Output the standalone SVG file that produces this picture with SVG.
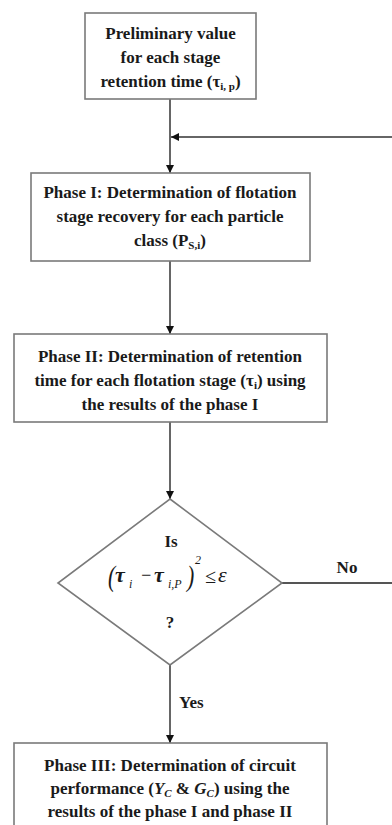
<svg xmlns="http://www.w3.org/2000/svg" width="392" height="825" viewBox="0 0 392 825">
<defs>
<marker id="ah" viewBox="0 0 10 10" refX="10" refY="5" markerWidth="8" markerHeight="8" markerUnits="userSpaceOnUse" orient="auto">
<path d="M0,0 L10,5 L0,10 z" fill="#111"/>
</marker>
<style>
.box{fill:#fff;stroke:#7a7a7a;stroke-width:1.6}
.t{font-family:"Liberation Serif","Times New Roman",serif;font-weight:bold;font-size:17px;fill:#1a1a1a;text-anchor:middle}
.m{font-family:"Liberation Serif","Times New Roman",serif;font-style:italic;fill:#1a1a1a}
.c{fill:none;stroke:#333;stroke-width:1.5}
.cn{fill:none;stroke:#555;stroke-width:1.8}
</style>
</defs>
<rect width="392" height="825" fill="#fff"/>
<g id="connectors">
<line class="c" x1="170" y1="99" x2="170" y2="173" marker-end="url(#ah)"/>
<line class="c" x1="392" y1="137" x2="171" y2="137" marker-end="url(#ah)"/>
<line class="c" x1="170" y1="261" x2="170" y2="334" marker-end="url(#ah)"/>
<line class="c" x1="170" y1="422" x2="170" y2="499" marker-end="url(#ah)"/>
<line class="cn" x1="282" y1="583" x2="392" y2="583"/>
<line class="c" x1="170" y1="665" x2="170" y2="743" marker-end="url(#ah)"/>
<text class="t" x="347" y="573">No</text>
<text class="t" x="179" y="708" style="text-anchor:start">Yes</text>
</g>
<g id="n1">
<rect class="box" x="85" y="13" width="171" height="86"/>
<text class="t" x="170.5" y="39">Preliminary value</text>
<text class="t" x="170.5" y="63">for each stage</text>
<text class="t" x="170.5" y="87">retention time (τ<tspan font-size="11" dy="3">i, p</tspan><tspan dy="-3">)</tspan></text>
</g>
<g id="n2">
<rect class="box" x="31" y="173" width="279" height="88"/>
<text class="t" x="170" y="198">Phase I: Determination of flotation</text>
<text class="t" x="170" y="222">stage recovery for each particle</text>
<text class="t" x="170" y="246">class (P<tspan font-size="11" dy="3">S,i</tspan><tspan dy="-3">)</tspan></text>
</g>
<g id="n3">
<rect class="box" x="14" y="334" width="313" height="88"/>
<text class="t" x="170" y="362">Phase II: Determination of retention</text>
<text class="t" x="170" y="386">time for each flotation stage (τ<tspan font-size="11" dy="3">i</tspan><tspan dy="-3">) using</tspan></text>
<text class="t" x="170" y="410">the results of the phase I</text>
</g>
<g id="n4">
<polygon class="box" points="170,499 282,583 170,665 58,583"/>
<text class="t" x="171" y="547">Is</text>
<text class="m" x="108" y="586" font-size="29" font-style="normal" transform="translate(108 586) scale(0.75 1) translate(-108 -586)">(</text>
<text class="m" x="115" y="582" font-size="22" font-weight="bold">τ</text>
<text class="m" x="129" y="588" font-size="12">i</text>
<text class="m" x="140" y="581" font-size="18" font-style="normal">−</text>
<text class="m" x="154" y="582" font-size="22" font-weight="bold">τ</text>
<text class="m" x="168" y="588" font-size="12">i,P</text>
<text class="m" x="187" y="586" font-size="29" font-style="normal" transform="translate(187 586) scale(0.75 1) translate(-187 -586)">)</text>
<text class="m" x="195" y="564" font-size="12" font-style="normal">2</text>
<text class="m" x="205" y="583" font-size="20" font-style="normal">≤</text>
<text class="m" x="218" y="582" font-size="22">ε</text>
<text class="t" x="170" y="628">?</text>
</g>
<g id="n5">
<rect class="box" x="14" y="743" width="313" height="90"/>
<text class="t" x="170" y="771">Phase III: Determination of circuit</text>
<text class="t" x="170" y="794">performance (<tspan font-style="italic">Y<tspan font-size="11" dy="3">C</tspan></tspan><tspan dy="-3"> &amp; </tspan><tspan font-style="italic">G<tspan font-size="11" dy="3">C</tspan></tspan><tspan dy="-3">) using the</tspan></text>
<text class="t" x="170" y="817">results of the phase I and phase II</text>
</g>
</svg>
